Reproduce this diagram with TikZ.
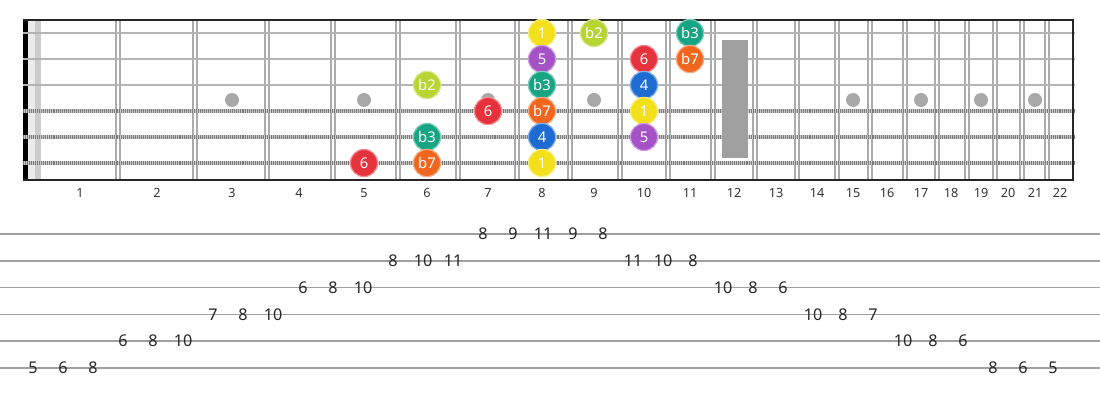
\documentclass[tikz,border=0pt]{standalone}
\usepackage{fontspec}
\setmainfont{Noto Sans}
\usetikzlibrary{positioning}

\definecolor{fretgray}{HTML}{ABABAB}
\definecolor{stringgray}{HTML}{B4B4B4}
\definecolor{woundgray}{HTML}{7A7A7A}
\definecolor{inlaygray}{HTML}{A8A8A8}
\definecolor{tabgray}{HTML}{A0A0A0}
\definecolor{rootyellow}{HTML}{F2E01A}
\definecolor{flattwo}{HTML}{B6D432}
\definecolor{flatthree}{HTML}{16A583}
\definecolor{fourblue}{HTML}{1E6CD2}
\definecolor{fivepurple}{HTML}{A452C6}
\definecolor{sixred}{HTML}{E6323C}
\definecolor{flatseven}{HTML}{F0661E}

\begin{document}
\begin{tikzpicture}[
            x=0.025cm, y=-0.025cm,
            fret/.style={draw=fretgray, line width=1.1pt, double=white, double distance=1.5pt},
            plain/.style={draw=stringgray, line width=1.6pt},
            woundbase/.style={draw=stringgray!70, line width=2.5pt},
            wound/.style={draw=woundgray, line width=2.5pt, dash pattern=on 0.7pt off 0.7pt},
            border/.style={draw=black!85, line width=1.1pt},
            inlay/.style={circle, fill=inlaygray, inner sep=0pt, minimum size=0.35cm},
            note/.style={circle, fill=#1, draw=#1!55!white, line width=0.9pt, inner sep=0pt,
                         minimum size=0.68cm, text=white, font=\fontsize{10.5}{10.5}\selectfont},
            fretnum/.style={font=\fontsize{9}{9}\selectfont, text=black!80},
            tabnum/.style={font=\fontsize{11.5}{11.5}\selectfont, inner sep=0pt, text=black!85}
        ]
            \useasboundingbox (0,0) rectangle (1100,400);

            % nut and open-string area
            \fill[black] (23,19) rectangle (28,181);
            \fill[black!8] (28,20) rectangle (35,180);
            \fill[black!20] (35,20) rectangle (41,180);

            % string and fret reference points
            \foreach \s/\y in {1/33, 2/59, 3/85, 4/111, 5/137, 6/163}
                \coordinate (s\s) at (0,\y);
            \foreach \f/\x in {1/80, 2/157, 3/232, 4/299, 5/364, 6/427, 7/488, 8/542, 9/594, 10/644, 11/690,
                               12/734, 13/776, 14/817, 15/853, 16/887, 17/921, 18/951, 19/981, 20/1008, 21/1035, 22/1060}
                \coordinate (fc\f) at (\x,0);

            % fret wires
            \foreach \x in {118, 195, 267, 333, 398, 458, 517, 570, 620, 668, 713, 755, 797, 837,
                            870, 905, 937, 967, 995, 1022, 1047}
                \draw[fret] (\x,20) -- (\x,180);

            % inlays
            \foreach \f in {3, 5, 7, 9, 15, 17, 19, 21}
                \node[inlay] (dot\f) at (fc\f |- 0,100) {};

            % strings
            \foreach \s in {1, 2, 3}
                \draw[plain] (23,0 |- s\s) -- (1075,0 |- s\s);
            \foreach \s in {4, 5, 6} {
                \draw[woundbase] (23,0 |- s\s) -- (1075,0 |- s\s);
                \draw[wound] (23,0 |- s\s) -- (1075,0 |- s\s);
            }

            % 12th fret marker
            \fill[inlaygray!95!black] (722,40) rectangle (748,158);

            % borders
            \draw[border] (23,20) -- (1074,20);
            \draw[border] (23,180) -- (1074,180);
            \draw[border] (1073,20) -- (1073,180);

            % fret numbers
            \foreach \f in {1,...,22}
                \node[fretnum] (fn\f) at (fc\f |- 0,193) {\f};

            % scale notes
            \foreach \s/\f/\c/\t in {1/8/rootyellow/1, 1/9/flattwo/b2, 1/11/flatthree/b3,
                                     2/8/fivepurple/5, 2/10/sixred/6, 2/11/flatseven/b7,
                                     3/6/flattwo/b2, 3/8/flatthree/b3, 3/10/fourblue/4,
                                     4/7/sixred/6, 4/8/flatseven/b7, 4/10/rootyellow/1,
                                     5/6/flatthree/b3, 5/8/fourblue/4, 5/10/fivepurple/5,
                                     6/5/sixred/6, 6/6/flatseven/b7, 6/8/rootyellow/1}
                \node[note=\c] (n\s-\f) at (fc\f |- s\s) {\t};

            % tab staff
            \foreach \s in {1,...,6}
                \draw[tabgray, line width=1pt] (0,234+26.8*\s-26.8) coordinate (tl\s) -- (1100,234+26.8*\s-26.8);

            \foreach \s/\f [count=\i from 0] in {6/5, 6/6, 6/8, 5/6, 5/8, 5/10, 4/7, 4/8, 4/10,
                                                 3/6, 3/8, 3/10, 2/8, 2/10, 2/11, 1/8, 1/9, 1/11,
                                                 1/9, 1/8, 2/11, 2/10, 2/8, 3/10, 3/8, 3/6,
                                                 4/10, 4/8, 4/7, 5/10, 5/8, 5/6, 6/8, 6/6, 6/5}
                \node[tabnum] (t\i) at (33+30*\i,0 |- tl\s) {\f};
        \end{tikzpicture}
\end{document}
